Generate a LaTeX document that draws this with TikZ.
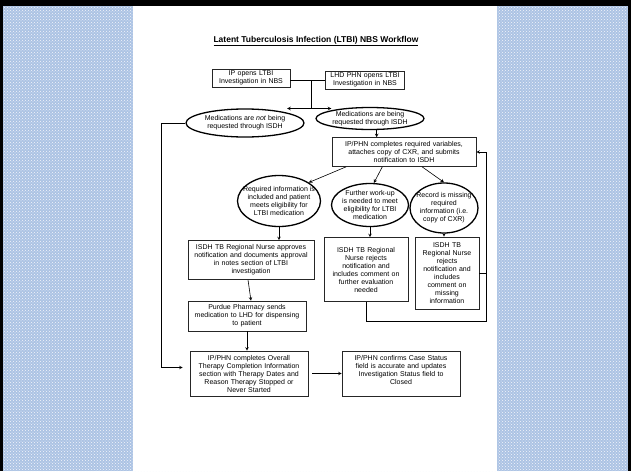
\documentclass[tikz,border=0pt]{standalone}
\usepackage{fontspec}
\setmainfont{Liberation Sans}
\usetikzlibrary{shapes.geometric,calc,patterns}
\definecolor{panelblue}{RGB}{172,195,228}
\begin{document}
\begin{tikzpicture}[x=1pt, y=-1pt, >=stealth, line width=0.6pt, font=\fontsize{7}{8}\selectfont]
\tikzset{
	box/.style={draw=black!85, align=center, inner sep=1pt},
	oval/.style={draw=black, ellipse, line width=1.3pt, inner sep=0pt},
	ovaltext/.style={align=center, inner sep=0pt}
}
\useasboundingbox (0,0) rectangle (631,471);

% Slide background
\fill[black] (0,0) rectangle (631,471);
\fill[panelblue] (3,6) rectangle (628,471);
\fill[pattern=crosshatch dots, pattern color=white!85!panelblue] (3,6) rectangle (628,471);
\fill[white] (133,6) rectangle (497,471);

% Title
\node[font=\fontsize{8.5}{10}\selectfont\bfseries] (title) at (316,41) {\underline{Latent Tuberculosis Infection (LTBI) NBS Workflow}};

% Start boxes
\node[box, text width=76pt, minimum height=18pt] (n1) at (251,78) {IP opens LTBI\\Investigation in NBS};
\node[box, text width=77pt, minimum height=18pt] (n2) at (365,80) {LHD PHN opens LTBI\\Investigation in NBS};

% Medication route
\node[oval, minimum width=118pt, minimum height=28pt, label={[ovaltext]center:{Medications are \textit{not} being\\requested through ISDH}}] (o1) at (245,123) {};
\node[oval, minimum width=108pt, minimum height=22pt, label={[ovaltext]center:{Medications are being\\requested through ISDH}}] (o2) at (370,118.5) {};

\node[box, text width=142pt, minimum height=29pt] (n3) at (404,152) {IP/PHN completes required variables,\\attaches copy of CXR, and submits\\notification to ISDH};

% Review outcomes
\node[oval, minimum width=83pt, minimum height=51pt, label={[ovaltext]center:{Required information is\\included and patient\\meets eligibility for\\LTBI medication}}] (o3) at (279,201) {};
\node[oval, minimum width=77pt, minimum height=43pt, label={[ovaltext]center:{Further work-up\\is needed to meet\\eligibility for LTBI\\medication}}] (o4) at (370,205) {};
\node[oval, minimum width=68pt, minimum height=50pt, label={[ovaltext]center:{Record is missing\\required\\information (i.e.\\copy of CXR)}}] (o5) at (444,208) {};

\node[box, text width=124pt, minimum height=39pt] (n4) at (251,260) {ISDH TB Regional Nurse approves\\notification and documents approval\\in notes section of LTBI\\investigation};
\node[box, text width=82pt, minimum height=64pt] (n5) at (366,269.5) {ISDH TB Regional\\Nurse rejects\\notification and\\includes comment on\\further evaluation\\needed};
\node[box, text width=62pt, minimum height=72pt] (n6) at (447,273) {ISDH TB\\Regional Nurse\\rejects\\notification and\\includes\\comment on\\missing\\information};

% Closing steps
\node[box, text width=116pt, minimum height=30pt] (n7) at (247,316) {Purdue Pharmacy sends\\medication to LHD for dispensing\\to patient};
\node[box, text width=116pt, minimum height=45pt] (n8) at (249,373.5) {IP/PHN completes Overall\\Therapy Completion Information\\section with Therapy Dates and\\Reason Therapy Stopped or\\Never Started};
\node[box, text width=116pt, minimum height=45pt] (n9) at (401,373.5) {IP/PHN confirms Case Status\\field is accurate and updates\\Investigation Status field to\\Closed\\\mbox{}};

% Connectors
\coordinate (j1) at (311,80);
\coordinate (j2) at (311,108.5);
\coordinate (r1) at (486,321);
\draw (n1.east |- j1) -- (n2.west |- j1);
\draw (j1) -- (j2);
\draw[->] (j2) -- (j2 -| o1.north east);
\draw[->] (j2) -- (j2 -| o2.north west);
\draw[->] (o2.-60) -- (o2.-60 |- n3.north);
\draw[->] ($(n3.south west)!0.1!(n3.south east)$) -- (o3.north east);
\draw[->] ($(n3.south west)!0.35!(n3.south east)$) -- (o4.80);
\draw[->] ($(n3.south west)!0.625!(n3.south east)$) -- (o5.north);
\draw[->] (o3.south) -- (o3.south |- n4.north);
\draw[->] (o4.south) -- (o4.south |- n5.north);
\draw[->] (o5.south) -- (o5.south |- n6.north);
\draw[->] ($(n4.south)+(-3,0)$) -- ($(n7.north)+(4,0)$);
\draw[->] (n7.south) -- (n7.south |- n8.north);
\draw[->, shorten <=4pt] (n8.east) -- (n9.west);

% Loops back
\draw[->] (o1.west) -- ++(-24,0) |- ($(n8.west)+(-7,-6)$);
\draw[->] (n5.south) |- (r1) |- (n3.east);
\draw (n6.east) -- (n6.east -| r1);

\end{tikzpicture}
\end{document}
